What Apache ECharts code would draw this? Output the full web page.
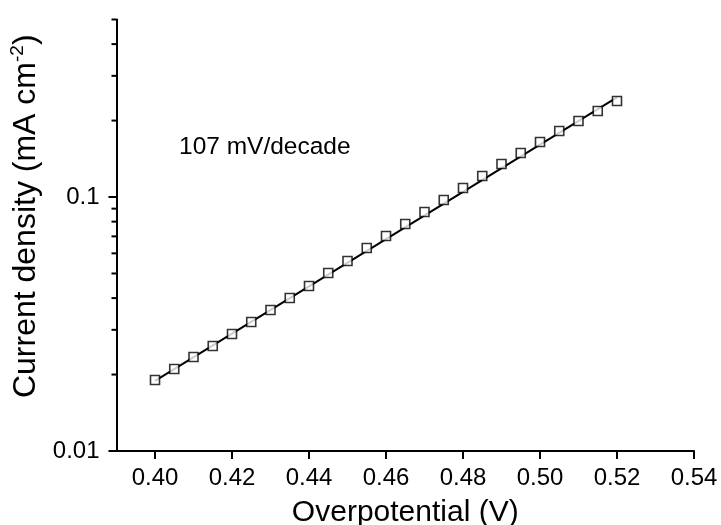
<!DOCTYPE html>
<html>
<head>
<meta charset="utf-8">
<script src="https://cdn.jsdelivr.net/npm/echarts@6/dist/echarts.min.js"></script>
<style>html,body{margin:0;padding:0;background:#fff}#c{width:721px;height:525px}</style>
</head>
<body>
<div id="c"></div>
<script>
// Data
var overpotential = [0.400,0.405,0.410,0.415,0.420,0.425,0.430,0.435,0.440,0.445,0.450,0.455,0.460,0.465,0.470,0.475,0.480,0.485,0.490,0.495,0.500,0.505,0.510,0.515,0.520];
var currentDensity = [0.01904,0.02102,0.02345,0.02590,0.02888,0.03220,0.03590,0.04003,0.04463,0.05022,0.05598,0.06300,0.07022,0.07829,0.08727,0.09732,0.1085,0.1210,0.1349,0.1490,0.1646,0.1819,0.1991,0.2181,0.2388];
var fitX = [0.40, 0.52];
var fitY = [0.0189, 0.247];
var xTickValues = [0.40,0.42,0.44,0.46,0.48,0.50,0.52,0.54];
var yMinorTicks = [0.02,0.03,0.04,0.05,0.06,0.07,0.08,0.09,0.2,0.3,0.4,0.5];
var yTickLabels = {'0.01':'0.01','0.1':'0.1'};
var annotation = '107 mV/decade';

var FONT = '"Liberation Sans", Arial, sans-serif';
var chart = echarts.init(document.getElementById('c'), null, {renderer:'canvas'});
chart.setOption({
  animation: false,
  backgroundColor: '#fff',
  grid: {left: 116.5, right: 27, top: 19.5, bottom: 74, containLabel: false, outerBoundsMode: 'none'},
  xAxis: {
    type: 'value', min: 0.39, max: 0.54, interval: 0.02,
    name: 'Overpotential (V)', nameLocation: 'middle', nameGap: 47,
    nameTextStyle: {fontFamily: FONT, fontSize: 30, color: '#000'},
    axisLine: {show: true, onZero: false, lineStyle: {color: '#000', width: 2}},
    axisTick: {show: true, length: 8, lineStyle: {color: '#000', width: 2},
      customValues: xTickValues},
    minorTick: {show: true, splitNumber: 2, length: 5, lineStyle: {color: '#000', width: 2}},
    axisLabel: {fontFamily: FONT, fontSize: 24, color: '#000', margin: 15,
      customValues: xTickValues,
      formatter: function(v){ return v.toFixed(2); }},
    splitLine: {show: false}
  },
  yAxis: {
    type: 'log', logBase: 10, min: 0.01, max: 0.5,
    name: '{t|Current density (mA cm}{s|-2}{t|)}', nameLocation: 'middle', nameGap: 64, nameRotate: 90,
    nameTextStyle: {fontFamily: FONT, fontSize: 32, color: '#000', padding: [0,0,0,38],
      rich: {t: {fontFamily: FONT, fontSize: 32, color: '#000'},
             s: {fontFamily: FONT, fontSize: 19, color: '#000', verticalAlign: 'top', padding: [0,0,16,0]}}},
    axisLine: {show: true, onZero: false, lineStyle: {color: '#000', width: 2}},
    axisTick: {show: true, length: 8, lineStyle: {color: '#000', width: 2}},
    minorTick: {show: false},
    axisLabel: {fontFamily: FONT, fontSize: 24, color: '#000', margin: 17, showMaxLabel: false,
      formatter: function(v){ var k = String(+v.toPrecision(3)); return yTickLabels[k] || ''; }},
    splitLine: {show: false}
  },
  graphic: [{type: 'text', left: 179, top: 135,
    style: {text: annotation, fontFamily: FONT, fontSize: 24.5, fill: '#000'}}],
  series: [
    {type: 'line', data: fitX.map(function(x,i){return [x, fitY[i]];}), symbol: 'none',
     lineStyle: {color: '#000', width: 2}, z: 2},
    {type: 'scatter', data: overpotential.map(function(x,i){return [x, currentDensity[i]];}),
     symbol: 'rect', symbolSize: 9,
     itemStyle: {color: '#fff', borderColor: '#000', borderWidth: 1.6}, z: 3},
    {type: 'custom', clip: false, silent: true, z: 1,
     data: yMinorTicks.map(function(v){return [0.39, v];}),
     renderItem: function(params, api){
       var p = api.coord([api.value(0), api.value(1)]);
       return {type: 'line', shape: {x1: p[0]-5, y1: p[1], x2: p[0], y2: p[1]},
               style: {stroke: '#000', lineWidth: 2}};
     }}
  ]
});
</script>
</body>
</html>
